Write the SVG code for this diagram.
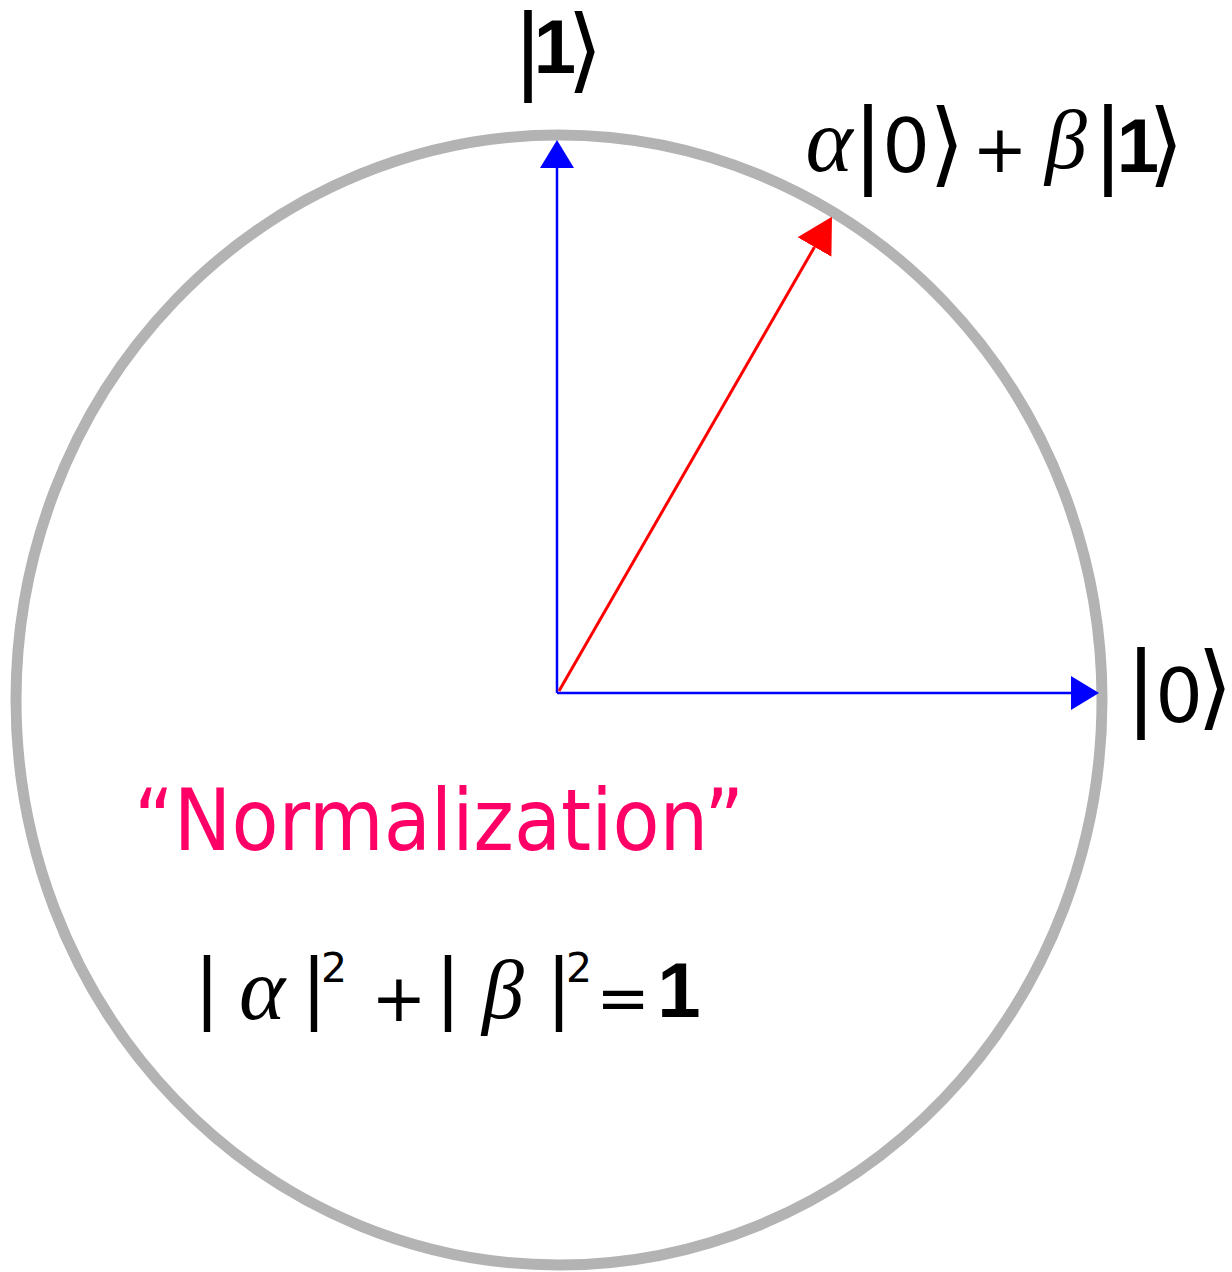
<svg xmlns="http://www.w3.org/2000/svg" width="1232" height="1272" viewBox="0 0 1232 1272">
<style>
text{font-family:"DejaVu Sans",sans-serif;fill:#000;text-anchor:middle}
.bar{font-size:92px}
.gr{font-family:"Liberation Serif",serif;font-style:italic}
</style>
<defs>
<marker id="ab" viewBox="0 0 28 34" refX="0" refY="17" markerWidth="28" markerHeight="34" markerUnits="userSpaceOnUse" orient="auto"><path d="M0,0 L28,17 L0,34 Z" fill="#0000FF"/></marker>
<marker id="ar" viewBox="0 0 35 39" refX="0" refY="19.5" markerWidth="35" markerHeight="39" markerUnits="userSpaceOnUse" orient="auto"><path d="M0,0 L35,19.5 L0,39 Z" fill="#FF0000"/></marker>
</defs>
<rect width="1232" height="1272" fill="#fff"/>
<g id="circle"><ellipse cx="559" cy="700" rx="543" ry="565" fill="none" stroke="#B3B3B3" stroke-width="11"/></g>
<g id="connectors">
<line x1="557" y1="693" x2="557" y2="168" stroke="#0000FF" stroke-width="2.5" marker-end="url(#ab)"/>
<line x1="557" y1="693" x2="1071" y2="693" stroke="#0000FF" stroke-width="2.5" marker-end="url(#ab)"/>
<line x1="559" y1="691" x2="814.5" y2="247" stroke="#FF0000" stroke-width="3" marker-end="url(#ar)"/>
</g>
<g id="ket1">
<text><tspan class="bar" x="528" y="81">|</tspan><tspan font-family="Liberation Sans" font-weight="bold" x="555" y="73" font-size="76">1</tspan><tspan class="bar" x="585" y="81">⟩</tspan></text>
</g>
<g id="ket0">
<text><tspan class="bar" x="1141" y="718">|</tspan><tspan x="1179" y="722" font-size="75">0</tspan><tspan class="bar" x="1215" y="718">⟩</tspan></text>
</g>
<g id="superposition">
<text><tspan class="gr" x="829" y="171" font-size="90">α</tspan><tspan class="bar" x="868" y="175">|</tspan><tspan x="906" y="172" font-size="75">0</tspan><tspan class="bar" x="947" y="175">⟩</tspan><tspan x="1000" y="172" font-size="66">+</tspan><tspan class="gr" x="1066" y="168" font-size="84">β</tspan><tspan class="bar" x="1108" y="175">|</tspan><tspan font-family="Liberation Sans" font-weight="bold" x="1138" y="172" font-size="76">1</tspan><tspan class="bar" x="1166" y="175">⟩</tspan></text>
</g>
<g id="normalization">
<text x="134" y="850" font-size="86" style="text-anchor:start;fill:#FF0066" textLength="610" lengthAdjust="spacingAndGlyphs">“Normalization”</text>
</g>
<g id="equation">
<text><tspan x="207" y="1013" font-size="77">|</tspan><tspan class="gr" x="262" y="1019" font-size="88">α</tspan><tspan x="314" y="1013" font-size="77">|</tspan><tspan x="334" y="982" font-size="41">2</tspan><tspan x="399" y="1021" font-size="66">+</tspan><tspan x="448" y="1013" font-size="77">|</tspan><tspan class="gr" x="503" y="1018" font-size="84">β</tspan><tspan x="559" y="1013" font-size="77">|</tspan><tspan x="579" y="982" font-size="41">2</tspan><tspan x="623" y="1020" font-size="64">=</tspan><tspan font-family="Liberation Sans" font-weight="bold" x="679" y="1017" font-size="78">1</tspan></text>
</g>
</svg>
